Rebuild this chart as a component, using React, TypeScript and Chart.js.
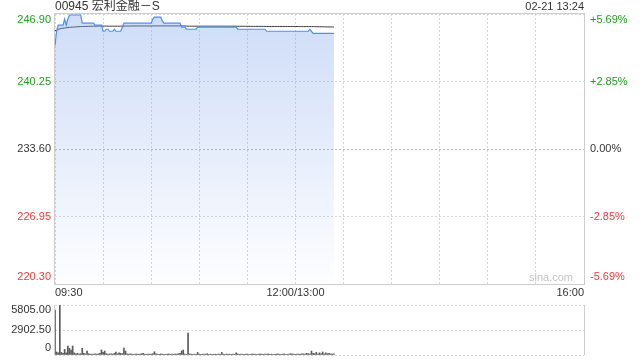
import React, { useEffect, useRef } from "react";
import { Chart, registerables } from "chart.js";

Chart.register(...registerables);

const TITLE = "00945 宏利金融－S";
const STAMP = "02-21 13:24";
const WATERMARK = "sina.com";
const PREV_CLOSE = 233.6;
const PRICE_TICKS = [220.3, 226.95, 233.6, 240.25, 246.9];
const PRICE_LABELS = ["220.30", "226.95", "233.60", "240.25", "246.90"];
const PCT_LABELS = ["-5.69%", "-2.85%", "0.00%", "+2.85%", "+5.69%"];
const VOL_TICKS = [0, 2902.5, 5805];
const VOL_LABELS = ["0", "2902.50", "5805.00"];
const TIME_LABELS = ["09:30", "12:00/13:00", "16:00"];
const TIME_POS = [0, 150, 330];
const GRID_MINUTES = [0, 30, 60, 90, 120, 150, 180, 210, 240, 270, 300, 330];
const TOTAL_MINUTES = 330;

const price = [
  243.8, 245.2, 245.8, 245.8, 245.8, 245.8, 246.4, 245.8, 246.4, 246.8,
  246.8, 246.8, 246.8, 246.8, 246.8, 246.8, 246.8, 246.0, 246.0, 246.0,
  246.0, 246.0, 246.0, 246.0, 246.0, 245.8, 245.8, 245.8, 245.8, 245.8,
  245.2, 245.2, 245.4, 245.4, 245.2, 245.2, 245.2, 245.4, 245.2, 245.2,
  245.2, 245.2, 245.6, 246.0, 246.0, 246.0, 246.0, 246.0, 246.0, 246.0,
  246.0, 246.0, 246.0, 246.0, 246.0, 246.0, 246.0, 246.0, 246.0, 246.0,
  246.0, 246.4, 246.6, 246.6, 246.6, 246.6, 246.6, 246.2, 246.0, 246.0,
  246.0, 246.0, 246.0, 246.0, 246.0, 246.0, 246.0, 246.0, 246.0, 245.6,
  245.6, 245.6, 245.4, 245.4, 245.4, 245.4, 245.4, 245.4, 245.4, 245.6,
  245.6, 245.6, 245.6, 245.6, 245.6, 245.6, 245.6, 245.6, 245.6, 245.6,
  245.6, 245.6, 245.6, 245.6, 245.6, 245.6, 245.6, 245.6, 245.6, 245.6,
  245.6, 245.6, 245.6, 245.6, 245.4, 245.4, 245.4, 245.4, 245.4, 245.4,
  245.4, 245.4, 245.4, 245.4, 245.4, 245.4, 245.4, 245.4, 245.4, 245.4,
  245.4, 245.4, 245.2, 245.2, 245.2, 245.2, 245.2, 245.2, 245.2, 245.2,
  245.2, 245.2, 245.2, 245.2, 245.2, 245.2, 245.2, 245.2, 245.2, 245.2,
  245.2, 245.2, 245.2, 245.2, 245.2, 245.2, 245.2, 245.2, 245.2, 245.4,
  245.2, 245.0, 245.0, 245.0, 245.0, 245.0, 245.0, 245.0, 245.0, 245.0,
  245.0, 245.0, 245.0, 245.0, 245.0,
];

const avgPrice = [
  245.25, 245.3, 245.38, 245.44, 245.48, 245.5, 245.52, 245.54, 245.56, 245.58,
  245.6, 245.61, 245.62, 245.63, 245.64, 245.65, 245.66, 245.67, 245.67, 245.68,
  245.68, 245.69, 245.69, 245.7, 245.7, 245.7, 245.7, 245.71, 245.71, 245.71,
  245.71, 245.71, 245.71, 245.7, 245.7, 245.7, 245.7, 245.7, 245.7, 245.7,
  245.7, 245.7, 245.7, 245.71, 245.71, 245.71, 245.71, 245.72, 245.72, 245.72,
  245.72, 245.72, 245.72, 245.72, 245.72, 245.72, 245.72, 245.72, 245.72, 245.72,
  245.72, 245.73, 245.73, 245.73, 245.73, 245.73, 245.73, 245.73, 245.73, 245.73,
  245.73, 245.73, 245.73, 245.73, 245.73, 245.73, 245.73, 245.73, 245.73, 245.73,
  245.72, 245.72, 245.71, 245.7, 245.7, 245.7, 245.7, 245.7, 245.7, 245.7,
  245.7, 245.7, 245.7, 245.7, 245.7, 245.7, 245.7, 245.7, 245.7, 245.7,
  245.7, 245.7, 245.7, 245.7, 245.7, 245.7, 245.7, 245.7, 245.7, 245.7,
  245.7, 245.7, 245.7, 245.7, 245.69, 245.69, 245.69, 245.69, 245.69, 245.69,
  245.69, 245.69, 245.68, 245.68, 245.68, 245.68, 245.68, 245.68, 245.68, 245.68,
  245.68, 245.68, 245.67, 245.67, 245.67, 245.67, 245.67, 245.67, 245.67, 245.67,
  245.67, 245.67, 245.67, 245.67, 245.67, 245.67, 245.67, 245.67, 245.67, 245.67,
  245.67, 245.67, 245.66, 245.66, 245.66, 245.66, 245.66, 245.66, 245.66, 245.66,
  245.66, 245.66, 245.65, 245.65, 245.65, 245.64, 245.64, 245.64, 245.64, 245.63,
  245.63, 245.63, 245.63, 245.62, 245.62,
];

const volume = [
  5225, 350, 250, 5805, 300, 200, 650, 250, 1045, 780,
  580, 1045, 250, 150, 200, 120, 150, 780, 200, 120,
  460, 150, 100, 120, 100, 150, 100, 120, 200, 580,
  300, 460, 150, 100, 120, 150, 100, 200, 350, 150,
  250, 200, 150, 810, 460, 150, 100, 120, 100, 80,
  100, 120, 80, 100, 150, 200, 100, 80, 120, 100,
  100, 150, 380, 150, 100, 80, 120, 100, 90, 80,
  100, 120, 80, 100, 90, 120, 100, 150, 200, 460,
  580, 100, 80, 2550, 120, 100, 90, 100, 80, 300,
  100, 80, 90, 120, 100, 150, 80, 100, 90, 80,
  100, 90, 120, 80, 300, 100, 80, 120, 90, 100,
  80, 100, 90, 250, 120, 80, 100, 90, 80, 100,
  100, 90, 80, 120, 100, 90, 80, 100, 120, 90,
  80, 100, 90, 120, 80, 100, 90, 80, 100, 120,
  90, 80, 100, 120, 90, 80, 100, 150, 120, 100,
  80, 120, 100, 90, 150, 120, 100, 200, 150, 120,
  460, 200, 150, 300, 120, 250, 150, 350, 120, 250,
  150, 200, 120, 100, 150,
];

const FONT = 'Arial, "Liberation Sans", "Noto Sans CJK SC", sans-serif';
const GREEN = "#1f9e1f";
const RED = "#f03a3a";
const TEXT = "#333333";
const FRAME = "#cdcdcd";
const GRID = "#d6d6d6";
const ZERO_GRID = "#b8b8b8";
const LINE_BLUE = "#4f8ef0";

const mainDecor = {
  id: "mainDecor",
  afterDraw(chart: any) {
    const { ctx, chartArea: a, scales } = chart;
    const ys = scales.y;
    const xs = scales.x;
    ctx.save();
    ctx.strokeStyle = FRAME;
    ctx.lineWidth = 1;
    ctx.setLineDash([]);
    ctx.strokeRect(a.left - 0.5, a.top - 0.5, a.right - a.left + 1, a.bottom - a.top + 1);

    ctx.font = "11px " + FONT;
    ctx.textBaseline = "middle";
    PRICE_TICKS.forEach((v, i) => {
      let py = ys.getPixelForValue(v);
      if (i === PRICE_TICKS.length - 1) py += 6;
      if (i === 0) py -= 7;
      const col = Math.abs(v - PREV_CLOSE) < 1e-6 ? TEXT : v > PREV_CLOSE ? GREEN : RED;
      ctx.fillStyle = col;
      ctx.textAlign = "right";
      ctx.fillText(PRICE_LABELS[i], a.left - 4, py);
      ctx.textAlign = "left";
      ctx.fillText(PCT_LABELS[i], a.right + 6, py);
    });

    ctx.fillStyle = TEXT;
    TIME_LABELS.forEach((t, i) => {
      const px = xs.getPixelForValue(TIME_POS[i]);
      ctx.textAlign = i === 0 ? "left" : i === TIME_LABELS.length - 1 ? "right" : "center";
      ctx.fillText(t, px, a.bottom + 9);
    });

    ctx.font = "12px " + FONT;
    ctx.textAlign = "left";
    ctx.fillText(TITLE, a.left, 7);
    ctx.font = "11px " + FONT;
    ctx.textAlign = "right";
    ctx.fillText(STAMP, a.right, 7);

    ctx.fillStyle = "#c4c4c4";
    ctx.fillText(WATERMARK, a.right - 11, a.bottom - 6);
    ctx.restore();
  },
};

const volDecor = {
  id: "volDecor",
  afterDraw(chart: any) {
    const { ctx, chartArea: a, scales } = chart;
    const ys = scales.y;
    ctx.save();
    ctx.strokeStyle = FRAME;
    ctx.lineWidth = 1;
    ctx.beginPath();
    ctx.moveTo(a.left - 0.5, a.top);
    ctx.lineTo(a.left - 0.5, a.bottom);
    ctx.moveTo(a.right + 0.5, a.top);
    ctx.lineTo(a.right + 0.5, a.bottom);
    ctx.stroke();
    ctx.font = "11px " + FONT;
    ctx.fillStyle = TEXT;
    ctx.textAlign = "right";
    ctx.textBaseline = "middle";
    VOL_TICKS.forEach((v, i) => {
      let py = ys.getPixelForValue(v);
      if (i === VOL_TICKS.length - 1) py += 5;
      if (i === 0) py -= 7;
      ctx.fillText(VOL_LABELS[i], a.left - 4, py);
    });
    ctx.restore();
  },
};

export default function App() {
  const mainRef = useRef<HTMLCanvasElement | null>(null);
  const volRef = useRef<HTMLCanvasElement | null>(null);

  useEffect(() => {
    const priceData = price.map((v, i) => ({ x: i, y: v }));
    const avgData = avgPrice.map((v, i) => ({ x: i, y: v }));
    const volData = volume.map((v, i) => ({ x: i, y: v }));

    const main = new Chart(mainRef.current as HTMLCanvasElement, {
      type: "line",
      data: {
        datasets: [
          {
            data: priceData,
            borderColor: LINE_BLUE,
            borderWidth: 1.2,
            pointRadius: 0,
            tension: 0,
            fill: "start",
            backgroundColor: (c: any) => {
              const a = c.chart.chartArea;
              if (!a) return "rgba(0,0,0,0)";
              const g = c.chart.ctx.createLinearGradient(0, a.top, 0, a.bottom);
              g.addColorStop(0, "rgba(120,160,235,0.36)");
              g.addColorStop(1, "rgba(120,160,235,0.01)");
              return g;
            },
          },
          {
            data: avgData,
            borderColor: "#3a3a3a",
            borderWidth: 1,
            pointRadius: 0,
            tension: 0,
            fill: false,
          },
        ],
      },
      options: {
        responsive: false,
        animation: false,
        devicePixelRatio: 1,
        layout: { padding: { left: 0, right: 56, top: 14, bottom: 0 } },
        plugins: { legend: { display: false }, tooltip: { enabled: false } },
        scales: {
          x: {
            type: "linear",
            min: 0,
            max: TOTAL_MINUTES,
            offset: false,
            afterBuildTicks: (s: any) => {
              s.ticks = GRID_MINUTES.map((v) => ({ value: v }));
            },
            afterFit: (s: any) => {
              s.height = 16;
            },
            ticks: { display: false },
            grid: { color: GRID, drawTicks: false, lineWidth: 1 },
            border: { display: false, dash: [2, 2] },
          },
          y: {
            type: "linear",
            min: PRICE_TICKS[0],
            max: PRICE_TICKS[PRICE_TICKS.length - 1],
            afterBuildTicks: (s: any) => {
              s.ticks = PRICE_TICKS.map((v) => ({ value: v }));
            },
            afterFit: (s: any) => {
              s.width = 55;
            },
            ticks: { display: false },
            grid: {
              drawTicks: false,
              lineWidth: 1,
              color: (c: any) =>
                c.tick && Math.abs(c.tick.value - PREV_CLOSE) < 1e-6 ? ZERO_GRID : GRID,
            },
            border: { display: false, dash: [2, 2] },
          },
        },
      },
      plugins: [mainDecor],
    } as any);

    const vol = new Chart(volRef.current as HTMLCanvasElement, {
      type: "bar",
      data: {
        datasets: [
          {
            data: volData,
            backgroundColor: "#5a5a5a",
            barThickness: 1,
            borderWidth: 0,
          },
        ],
      },
      options: {
        responsive: false,
        animation: false,
        devicePixelRatio: 1,
        layout: { padding: { left: 0, right: 56, top: 5, bottom: 0 } },
        plugins: { legend: { display: false }, tooltip: { enabled: false } },
        scales: {
          x: {
            type: "linear",
            min: 0,
            max: TOTAL_MINUTES,
            offset: false,
            afterFit: (s: any) => {
              s.height = 5;
            },
            ticks: { display: false },
            grid: { display: false, drawTicks: false, offset: false },
            border: { display: false },
          },
          y: {
            type: "linear",
            min: VOL_TICKS[0],
            max: VOL_TICKS[VOL_TICKS.length - 1],
            afterBuildTicks: (s: any) => {
              s.ticks = VOL_TICKS.map((v) => ({ value: v }));
            },
            afterFit: (s: any) => {
              s.width = 55;
            },
            ticks: { display: false },
            grid: { color: GRID, drawTicks: false, lineWidth: 1 },
            border: { display: false, dash: [2, 2] },
          },
        },
      },
      plugins: [volDecor],
    } as any);

    return () => {
      main.destroy();
      vol.destroy();
    };
  }, []);

  return (
    <div style={{ position: "absolute", left: 0, top: 0, width: 640, height: 360, background: "#fff" }}>
      <canvas
        ref={mainRef}
        width={640}
        height={300}
        style={{ position: "absolute", left: 0, top: 0, width: 640, height: 300 }}
      />
      <canvas
        ref={volRef}
        width={640}
        height={60}
        style={{ position: "absolute", left: 0, top: 300, width: 640, height: 60 }}
      />
    </div>
  );
}
